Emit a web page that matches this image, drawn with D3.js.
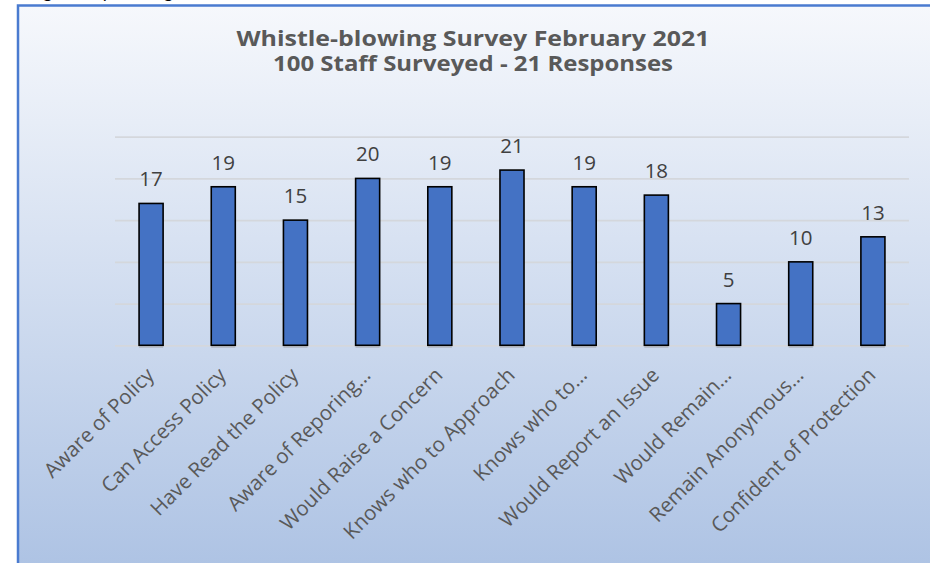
<!DOCTYPE html>
<html>
<head>
<meta charset="utf-8">
<script src="https://cdn.jsdelivr.net/npm/d3@7/dist/d3.min.js"></script>
<style>
  html, body { margin: 0; padding: 0; background: #ffffff; }
  svg { display: block; }
</style>
</head>
<body>
<svg id="chart" width="930" height="563"></svg>
<script>
// ---- Data ----
const categories = [
  "Aware of Policy",
  "Can Access Policy",
  "Have Read the Policy",
  "Aware of Reporing\u2026",
  "Would Raise a Concern",
  "Knows who to Approach",
  "Knows who to\u2026",
  "Would Report an Issue",
  "Would Remain\u2026",
  "Remain Anonymous\u2026",
  "Confident of Protection"
];
const responses = [17, 19, 15, 20, 19, 21, 19, 18, 5, 10, 13];
const gridTicks = [0, 5, 10, 15, 20, 25];
const titleLines = [
  "Whistle-blowing Survey February 2021",
  "100 Staff Surveyed - 21 Responses"
];
const pageHeading = "Whistle-blowing Survey Findings";

// ---- Layout ----
const W = 930, H = 563;
const plot = { left: 115, right: 909, top: 136.7, bottom: 345.3 };
const FONT = "Lato, 'Open Sans', 'Noto Sans', sans-serif";
const FONT2 = "'Open Sans', 'Noto Sans', sans-serif";

const svg = d3.select("#chart");

// gradient
const defs = svg.append("defs");
const grad = defs.append("linearGradient").attr("id", "bg")
  .attr("x1", 0).attr("y1", 0).attr("x2", 0).attr("y2", 1);
grad.append("stop").attr("offset", "0%").attr("stop-color", "#f6f8fc");
grad.append("stop").attr("offset", "100%").attr("stop-color", "#abc1e3");

// clipped page heading above the chart (only descenders visible)
svg.append("text")
  .attr("x", 181).attr("y", -1.8)
  .attr("text-anchor", "end")
  .attr("font-family", FONT)
  .attr("font-size", 18)
  .attr("fill", "#000")
  .text(pageHeading);

// chart frame
svg.append("rect")
  .attr("x", 18).attr("y", 5.5)
  .attr("width", W + 20).attr("height", H + 20)
  .attr("fill", "url(#bg)")
  .attr("stroke", "#4a7bd0")
  .attr("stroke-width", 2.5);

// scales
const x = d3.scaleBand()
  .domain(categories)
  .range([plot.left, plot.right])
  .paddingInner(0.667)
  .paddingOuter(0.3335);
const y = d3.scaleLinear()
  .domain([0, 25])
  .range([plot.bottom, plot.top]);

// gridlines
const grid = svg.append("g")
  .attr("transform", `translate(${plot.left},0)`)
  .call(d3.axisLeft(y).tickValues(gridTicks).tickSize(-(plot.right - plot.left)).tickFormat(""));
grid.select(".domain").remove();
grid.selectAll("line").attr("stroke", "#d4d7dc").attr("stroke-width", 1.8);

// bar shadow hints
svg.append("g").selectAll("line").data(categories).join("line")
  .attr("x1", d => x(d)).attr("x2", d => x(d) + x.bandwidth())
  .attr("y1", y(0) + 1.8).attr("y2", y(0) + 1.8)
  .attr("stroke", "#a9adb5").attr("stroke-width", 1);

// bars
svg.append("g").selectAll("rect").data(responses).join("rect")
  .attr("x", (d, i) => x(categories[i]))
  .attr("y", d => y(d))
  .attr("width", x.bandwidth())
  .attr("height", d => y(0) - y(d))
  .attr("fill", "#4472c4")
  .attr("stroke", "#000")
  .attr("stroke-width", 1.6);

// value labels
svg.append("g").selectAll("text").data(responses).join("text")
  .attr("x", (d, i) => x(categories[i]) + x.bandwidth() / 2)
  .attr("y", d => y(d) - 17)
  .attr("text-anchor", "middle")
  .attr("font-family", FONT2)
  .attr("font-size", 20.5)
  .attr("fill", "#404040")
  .text(d => d);

// category labels (rotated)
const xAxis = svg.append("g")
  .attr("transform", `translate(0,${plot.bottom})`)
  .call(d3.axisBottom(x).tickSize(0).tickPadding(0));
xAxis.select(".domain").remove();
xAxis.selectAll(".tick text")
  .attr("font-family", FONT2)
  .attr("font-size", 20.5)
  .attr("fill", "#595959")
  .attr("text-anchor", "end")
  .attr("x", 0).attr("y", 0).attr("dy", "0.35em")
  .attr("transform", "translate(-1,26) rotate(-45)");

// title
const title = svg.append("g");
const targets = [473, 400];
const baselines = [46, 71];
titleLines.forEach((t, i) => {
  title.append("text")
    .attr("x", 473).attr("y", baselines[i])
    .attr("text-anchor", "middle")
    .attr("font-family", FONT2)
    .attr("font-weight", "bold")
    .attr("font-size", 21.5)
    .attr("fill", "#595959")
    .attr("textLength", targets[i])
    .attr("lengthAdjust", "spacingAndGlyphs")
    .text(t);
});
</script>
</body>
</html>
